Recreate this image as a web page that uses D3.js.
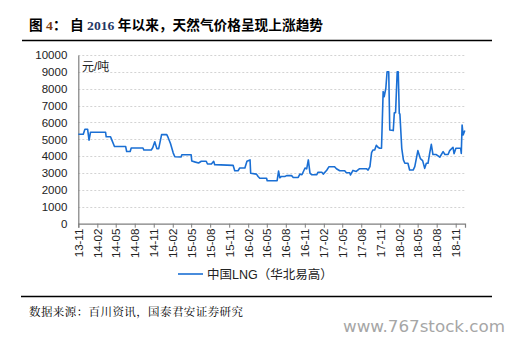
<!DOCTYPE html>
<html><head><meta charset="utf-8">
<script src="https://cdn.jsdelivr.net/npm/d3@7"></script>
<style>
html,body{margin:0;padding:0;background:#fff;}
svg{display:block;}
</style></head>
<body>
<svg id="chart" width="510" height="341"></svg>
<script>
// ---- data ----
const dates = ["2013-11-01","2013-11-25","2013-12-03","2013-12-16","2013-12-23","2013-12-30","2014-03-13","2014-03-16","2014-04-06","2014-04-11","2014-04-25","2014-06-18","2014-06-23","2014-07-10","2014-07-15","2014-09-10","2014-09-14","2014-10-20","2014-10-27","2014-11-06","2014-11-16","2014-11-25","2014-12-09","2015-01-03","2015-01-10","2015-01-21","2015-02-03","2015-02-11","2015-03-13","2015-03-17","2015-05-01","2015-05-04","2015-05-22","2015-06-06","2015-06-19","2015-07-13","2015-07-19","2015-08-07","2015-08-18","2015-08-23","2015-11-20","2015-11-28","2015-12-14","2015-12-22","2016-01-16","2016-01-26","2016-02-10","2016-02-13","2016-03-12","2016-03-20","2016-03-28","2016-04-30","2016-05-03","2016-06-20","2016-06-27","2016-07-03","2016-07-11","2016-07-27","2016-08-05","2016-08-29","2016-09-06","2016-09-30","2016-10-08","2016-10-18","2016-11-02","2016-11-10","2016-11-18","2016-11-26","2016-12-04","2016-12-28","2017-01-04","2017-01-22","2017-01-29","2017-02-15","2017-02-26","2017-03-25","2017-04-03","2017-04-19","2017-05-13","2017-05-21","2017-06-06","2017-06-10","2017-06-22","2017-07-08","2017-07-24","2017-08-26","2017-09-03","2017-09-12","2017-09-20","2017-09-27","2017-10-05","2017-10-13","2017-10-21","2017-10-29","2017-11-07","2017-11-15","2017-11-20","2017-11-28","2017-12-04","2017-12-12","2017-12-17","2018-01-03","2018-01-08","2018-01-14","2018-01-22","2018-01-27","2018-02-01","2018-02-04","2018-02-13","2018-02-21","2018-02-28","2018-03-15","2018-03-23","2018-04-09","2018-04-17","2018-05-02","2018-05-14","2018-05-25","2018-06-04","2018-06-12","2018-06-20","2018-06-28","2018-07-06","2018-07-14","2018-07-30","2018-08-16","2018-09-01","2018-09-10","2018-09-25","2018-10-03","2018-10-19","2018-10-24","2018-11-02","2018-11-25","2018-11-28","2018-12-02","2018-12-07","2018-12-15"];
const lngPrice = [5300,5300,5600,5600,4950,5420,5420,5150,5150,5000,4580,4580,4280,4280,4490,4490,4370,4370,4500,4860,4450,4450,5280,5280,5100,4750,4200,3970,3950,4090,4090,3720,3650,3600,3700,3700,3540,3540,3700,3500,3460,3140,3140,3300,3300,3700,3780,2990,2940,2800,2690,2690,2550,2550,3120,2720,2800,2800,2850,2850,2740,2740,2940,2900,3300,3250,3780,3000,2900,2900,3050,3050,2940,3170,3380,3380,3260,3140,3140,3020,3020,2890,3160,3100,3260,3260,3180,3380,4210,4370,4370,4650,4530,4470,4470,7830,7530,8030,9010,9010,5550,5520,6580,6580,9010,9010,6540,6500,4470,3780,3580,3580,3180,3180,3380,4330,3860,3740,3280,3580,3580,4170,4700,4100,4100,3940,4270,4100,4100,4330,4530,4150,4470,4470,4170,5850,5260,5520];
const yTicks = [0,1000,2000,3000,4000,5000,6000,7000,8000,9000,10000];
const xTickLabels = ["13-11","14-02","14-05","14-08","14-11","15-02","15-05","15-08","15-11","16-02","16-05","16-08","16-11","17-02","17-05","17-08","17-11","18-02","18-05","18-08","18-11"];
const seriesName = "中国LNG（华北易高）";
const unitLabel = "元/吨";
const sourceText = "数据来源：百川资讯，国泰君安证券研究";
const watermark = "www.767stock.com";

// ---- layout ----
const svg = d3.select("#chart");
const parse = d3.timeParse("%Y-%m-%d");
const tickParse = d3.timeParse("%y-%m");
const data = dates.map((d,i)=>({date:parse(d), v:lngPrice[i]}));
const plot = {left:78.3, right:465, top:55, bottom:223.7};

const x = d3.scaleTime()
  .domain([parse("2013-11-01"), parse("2018-12-16")])
  .range([plot.left, plot.right]);
const y = d3.scaleLinear().domain([0,10000]).range([plot.bottom, plot.top]);

const font = "'Liberation Sans', Arial, 'Noto Sans CJK SC', sans-serif";
const serifCJK = "'Noto Serif CJK SC','Noto Sans CJK SC', serif";

// title
const title = svg.append("text").attr("x",29).attr("y",30)
  .attr("font-family","'Liberation Serif','Noto Sans CJK SC',serif")
  .attr("font-weight","bold").attr("font-size",13.5).attr("fill","#000")
  .attr("textLength",294).attr("lengthAdjust","spacingAndGlyphs");
title.append("tspan").text("图 ");
title.append("tspan").attr("fill","#7b3a10").text("4");
title.append("tspan").text("： 自 ");
title.append("tspan").attr("fill","#1f3864").text("2016");
title.append("tspan").text(" 年以来，天然气价格呈现上涨趋势");

// rules
svg.append("line").attr("x1",22).attr("x2",492).attr("y1",40.5).attr("y2",40.5)
  .attr("stroke","#000").attr("stroke-width",1.3);
svg.append("line").attr("x1",21).attr("x2",492).attr("y1",296.5).attr("y2",296.5)
  .attr("stroke","#000").attr("stroke-width",1.3);

// grid
svg.append("g").selectAll("line").data(yTicks.filter(t=>t>0)).join("line")
  .attr("x1",plot.left).attr("x2",plot.right)
  .attr("y1",d=>Math.round(y(d))+0.5).attr("y2",d=>Math.round(y(d))+0.5)
  .attr("stroke","#c8c8c8").attr("stroke-width",0.8).attr("stroke-dasharray","2,2");

// y axis
const yAxis = d3.axisLeft(y).tickValues(yTicks).tickSize(0).tickPadding(11).tickFormat(d3.format("d"));
const gy = svg.append("g").attr("transform",`translate(${plot.left},0)`).call(yAxis);
gy.select(".domain").attr("stroke","#7f7f7f").attr("stroke-width",1.2);
gy.selectAll("text").attr("font-family",font).attr("font-size",11.5).attr("fill","#222");

// x axis
const xTickDates = xTickLabels.map(s=>tickParse(s));
const xAxis = d3.axisBottom(x).tickValues(xTickDates).tickSize(4).tickPadding(4).tickFormat(d3.timeFormat("%y-%m"));
const gx = svg.append("g").attr("transform",`translate(0,${plot.bottom})`).call(xAxis);
gx.select(".domain").attr("stroke","#7f7f7f").attr("stroke-width",1.2);
gx.selectAll(".tick line").attr("stroke","#7f7f7f");
gx.selectAll("text").attr("font-family",font).attr("font-size",11.5).attr("fill","#222")
  .attr("transform","rotate(-90)").attr("text-anchor","end")
  .attr("x",-5).attr("y",0).attr("dy","0.35em");

// unit label
svg.append("text").attr("x",82).attr("y",71).attr("font-family",font)
  .attr("font-size",12).attr("fill","#222").text(unitLabel);

// line
svg.append("path").datum(data)
  .attr("fill","none").attr("stroke","#1a6fd4").attr("stroke-width",1.6)
  .attr("stroke-linejoin","round")
  .attr("d",d3.line().x(d=>x(d.date)).y(d=>y(d.v)));

// legend
svg.append("line").attr("x1",178).attr("x2",203).attr("y1",274).attr("y2",274)
  .attr("stroke","#1a6fd4").attr("stroke-width",1.6);
svg.append("text").attr("x",207).attr("y",278.5).attr("font-family",font)
  .attr("font-size",12.5).attr("fill","#222").text(seriesName);

// source
svg.append("text").attr("x",29).attr("y",316).attr("font-family",serifCJK)
  .attr("font-size",11.5).attr("fill","#000")
  .attr("textLength",214).attr("lengthAdjust","spacing").text(sourceText);

// watermark
svg.append("text").attr("x",343).attr("y",332).attr("font-family","'DejaVu Sans', sans-serif")
  .attr("font-size",16).attr("fill","#a6a6a6")
  .attr("textLength",162).attr("lengthAdjust","spacingAndGlyphs").text(watermark);
</script>
</body></html>
